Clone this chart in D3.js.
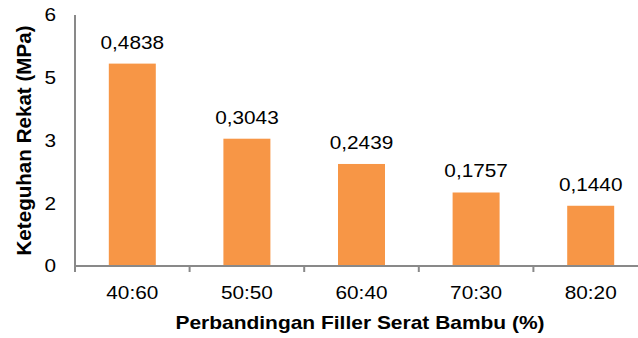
<!DOCTYPE html>
<html>
<head>
<meta charset="utf-8">
<script src="https://cdn.jsdelivr.net/npm/d3@7"></script>
<style>
  html, body { margin: 0; padding: 0; background: #fff; }
  svg { display: block; }
  text { font-family: "Liberation Sans", Arial, sans-serif; fill: #000; }
</style>
</head>
<body>
<svg id="chart" width="638" height="338"></svg>
<script>
const categories = ["40:60", "50:50", "60:40", "70:30", "80:20"];
const barValues = [4.838, 3.043, 2.439, 1.757, 1.440];
const barLabels = ["0,4838", "0,3043", "0,2439", "0,1757", "0,1440"];
const yTickValues = [0, 1.5, 3, 4.5, 6];
const yTickLabels = ["0", "2", "3", "5", "6"];
const xTitle = "Perbandingan Filler Serat Bambu (%)";
const yTitle = "Keteguhan Rekat (MPa)";

(function () {
const W = 638, H = 338;
const mLeft = 75, mRight = 648, mTop = 15, mBottom = 266;
const SX = 1.155;
const axisColor = "#898989";
const barColor = "#F79646";

const svg = d3.select("#chart");

const y = d3.scaleLinear().domain([0, 6]).range([mBottom, mTop]);
const xBand = d3.scaleBand().domain(categories).range([mLeft, mRight]).paddingInner(0.59).paddingOuter(0.295);
const xCell = d3.scaleBand().domain(categories).range([mLeft, mRight]).padding(0);

// bars
svg.append("g").selectAll("rect").data(categories).join("rect")
  .attr("x", d => xBand(d))
  .attr("width", xBand.bandwidth())
  .attr("y", (d, i) => y(barValues[i]))
  .attr("height", (d, i) => y(0) - y(barValues[i]))
  .attr("fill", barColor);

// value labels
svg.append("g").selectAll("text").data(categories).join("text")
  .attr("transform", (d, i) => `translate(${xBand(d) + xBand.bandwidth() / 2},${y(barValues[i]) - 15}) scale(${SX},1)`)
  .attr("text-anchor", "middle")
  .style("font-size", "18px")
  .text((d, i) => barLabels[i]);

// y axis line
svg.append("line")
  .attr("x1", mLeft).attr("x2", mLeft)
  .attr("y1", y(6)).attr("y2", mBottom + 6)
  .attr("stroke", axisColor).attr("stroke-width", 2);

// y tick labels
svg.append("g").selectAll("text").data(yTickValues).join("text")
  .attr("transform", d => `translate(56,${y(d)}) scale(${SX},1)`)
  .attr("dy", "0.36em")
  .attr("text-anchor", "end")
  .style("font-size", "18px")
  .text((d, i) => yTickLabels[i]);

// x axis
const xAxisG = svg.append("g");
xAxisG.append("line")
  .attr("x1", mLeft - 1).attr("x2", W)
  .attr("y1", mBottom).attr("y2", mBottom)
  .attr("stroke", axisColor).attr("stroke-width", 2);
xAxisG.selectAll("line.tick").data(categories).join("line")
  .attr("class", "tick")
  .attr("x1", d => xCell(d)).attr("x2", d => xCell(d))
  .attr("y1", mBottom).attr("y2", mBottom + 6)
  .attr("stroke", axisColor).attr("stroke-width", 2);
xAxisG.selectAll("text").data(categories).join("text")
  .attr("transform", d => `translate(${xCell(d) + xCell.bandwidth() / 2},298.5) scale(${SX},1)`)
  .attr("text-anchor", "middle")
  .style("font-size", "18px")
  .text(d => d);

// x title
svg.append("text")
  .attr("transform", `translate(360,328.5) scale(1.165,1)`)
  .attr("text-anchor", "middle")
  .style("font-size", "18px")
  .style("font-weight", "bold")
  .text(xTitle);

// y title
svg.append("text")
  .attr("transform", `translate(30.5,140.5) rotate(-90)`)
  .attr("text-anchor", "middle")
  .style("font-size", "20.6px")
  .style("font-weight", "bold")
  .text(yTitle);
})();
</script>
</body>
</html>
